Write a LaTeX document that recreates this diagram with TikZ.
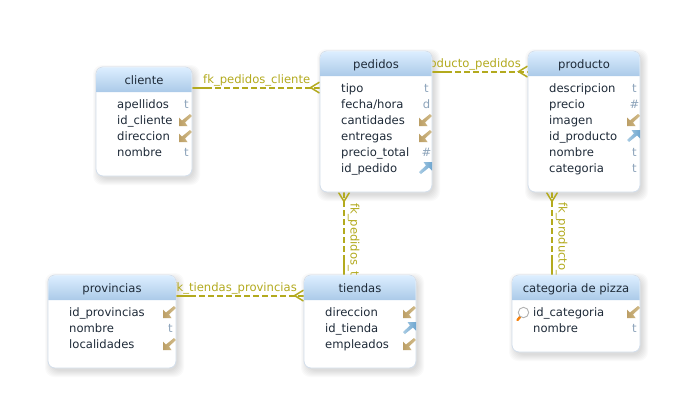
\documentclass[tikz,border=0pt]{standalone}
\usepackage{fontspec}
\setmainfont{DejaVu Sans}
\usetikzlibrary{arrows.meta,backgrounds,calc}
\definecolor{fkc}{HTML}{B3AA1E}
\definecolor{typec}{HTML}{8CA3BA}
\definecolor{txtc}{HTML}{1E2A38}
\definecolor{edgec}{HTML}{D3DEEB}
\definecolor{fkdark}{HTML}{BC9F66}
\definecolor{fklight}{HTML}{D2BC8A}
\definecolor{pkdark}{HTML}{6FA6D0}
\definecolor{pklight}{HTML}{A9CCE3}
\definecolor{hdtop}{HTML}{DCEEFF}
\definecolor{hdbot}{HTML}{ABCAE8}
\tikzset{
  x=1pt,y=-1pt,
  tablebox/.style={draw=edgec,line width=0.8pt,fill=white,rounded corners=7pt,inner sep=0pt},
  colname/.style={font=\fontsize{11.6}{14}\selectfont,text=txtc,anchor=base west,inner sep=0pt},
  typename/.style={font=\fontsize{11.6}{14}\selectfont,text=typec,anchor=base,inner sep=0pt},
  titlename/.style={font=\fontsize{11.6}{14}\selectfont,text=txtc,anchor=base,inner sep=0pt},
  fkline/.style={draw=fkc,line width=1.8pt,
    dash pattern=on 20pt off 3pt on 6pt off 3pt on 6pt off 3pt on 6pt off 3pt on 6pt off 3pt on 6pt off 3pt on 6pt off 3pt on 6pt off 3pt on 6pt off 3pt on 6pt off 3pt on 6pt off 3pt on 6pt off 3pt on 6pt off 3pt on 6pt off 200pt},
  fkfoot/.style={draw=fkc,line width=1.5pt,line join=miter},
  fklabel/.style={font=\fontsize{11.6}{14}\selectfont,text=fkc,inner sep=0pt},
}
\newcommand{\iconfk}[2]{% x right edge, y centre
  \shade[left color=fkdark,right color=fklight] (#1-2,#2-6) -- (#1-10,#2+0.5) -- (#1-13,#2-2.5) -- (#1-13,#2+6) -- (#1-4.5,#2+6) -- (#1-7,#2+2.5) -- (#1,#2-4) -- cycle;}
\newcommand{\iconpk}[2]{%
  \shade[left color=pklight,right color=pkdark] (#1-11,#2+6) -- (#1-3,#2-0.5) -- (#1,#2+2.5) -- (#1,#2-6) -- (#1-8.5,#2-6) -- (#1-6,#2-2.5) -- (#1-13,#2+4) -- cycle;}
\newcommand{\coltype}[3]{%
  \ifx#1f\iconfk{#2}{#3}\fi
  \ifx#1p\iconpk{#2}{#3}\fi
  \ifx#1t\node[typename] at (#2-5.5,#3+4) {t};\fi
  \ifx#1d\node[typename] at (#2-5.5,#3+4) {d};\fi
  \ifx#1h\node[typename] at (#2-5.5,#3+4) {\#};\fi
}
\newcommand{\dbtable}[7]{% name x y w h title rows
  \pgfmathsetmacro{\xa}{#2}\pgfmathsetmacro{\ya}{#3}
  \pgfmathsetmacro{\xb}{#2+#4}\pgfmathsetmacro{\yb}{#3+#5}
  \pgfmathsetmacro{\xc}{#2+#4/2}\pgfmathsetmacro{\yc}{#3+#5/2}
  \begin{scope}[on background layer]
    \foreach \s in {0,1,...,6}{
      \fill[black,opacity=0.018,rounded corners=9pt]
        (\xa+3-\s,\ya+4-\s) rectangle (\xb+2+\s,\yb+3+\s);
    }
  \end{scope}
  \node[tablebox,minimum width=#4pt,minimum height=#5pt] (#1) at (\xc,\yc) {};
  \shade[top color=hdtop,bottom color=hdbot,rounded corners=7pt]
    (\xa+0.4,\ya+25) [sharp corners] -- (\xa+0.4,\ya+18) [rounded corners=7pt] -- (\xa+0.4,\ya+0.4) -- (\xb-0.4,\ya+0.4) -- (\xb-0.4,\ya+18) [sharp corners] -- (\xb-0.4,\ya+25) -- cycle;
  \node[titlename] (#1-title) at (\xc,\ya+17) {#6};
  \foreach \colt/\colk [count=\i from 0] in {#7}{
    \pgfmathsetmacro{\ry}{\ya+37+16*\i}
    \node[colname] (#1-\i) at (\xa+21,\ry+4) {\colt};
    \expandafter\coltype\expandafter{\colk}{\xb}{\ry}
  }
}
% connector: from a, to b, crow's foot opening towards b; #3,#4 = unit direction
\newcommand{\fklink}[4]{%
  \draw[fkline] #1 -- #2;
  \draw[fkfoot] ($#2+(#4*5.5,#3*5.5)$) -- ($#2-(#3*9,#4*9)$) -- ($#2-(#4*5.5,#3*5.5)$);
}
\begin{document}
\begin{tikzpicture}
\useasboundingbox (0,0) rectangle (688,416);
\begin{scope}[on background layer]
  \fill[white] (0,0) rectangle (688,416);
\end{scope}
\dbtable{cliente}{96}{67}{96}{109}{cliente}{apellidos/t,id\_cliente/f,direccion/f,nombre/t}
\dbtable{pedidos}{320}{51}{112}{141}{pedidos}{tipo/t,{fecha/hora}/d,cantidades/f,entregas/f,precio\_total/h,id\_pedido/p}
\dbtable{producto}{528}{51}{112}{141}{producto}{descripcion/t,precio/h,imagen/f,id\_producto/p,nombre/t,categoria/t}
\dbtable{tiendas}{304}{275}{112}{93}{tiendas}{direccion/f,id\_tienda/p,empleados/f}
\dbtable{provincias}{48}{275}{128}{93}{provincias}{id\_provincias/f,nombre/t,localidades/f}
\dbtable{categoria}{512}{275}{128}{77}{categoria de pizza}{id\_categoria/f,nombre/t}
% magnifier key icon
\draw[orange!85!brown,line width=2.4pt,line cap=round] (517.5,320) -- (520,317);
\draw[gray!60,line width=0.9pt,fill=white] (523.5,312.5) circle (5.2);
\begin{scope}[on background layer]
  \fklink{([yshift=-21pt]cliente.north east)}{([yshift=-37pt]pedidos.north west)}{1}{0}
  \fklink{([yshift=-21pt]pedidos.north east)}{([yshift=-21pt]producto.north west)}{1}{0}
  \fklink{([yshift=-21pt]provincias.north east)}{([yshift=-21pt]tiendas.north west)}{1}{0}
  \fklink{([xshift=-16pt]tiendas.north)}{([xshift=-32pt]pedidos.south)}{0}{-1}
  \fklink{([xshift=-24pt]categoria.north)}{([xshift=-32pt]producto.south)}{0}{-1}
  \node[fklabel,anchor=base west] (lab1) at (203,83) {fk\_pedidos\_cliente};
  \node[fklabel,anchor=base east] (lab2) at (521,67) {fk\_producto\_pedidos};
  \node[fklabel,anchor=base east] (lab3) at (297,291) {fk\_tiendas\_provincias};
  \node[fklabel,anchor=base west,rotate=-90] (lab4) at (350.5,203) {fk\_pedidos\_tiendas};
  \node[fklabel,anchor=base west,rotate=-90] (lab5) at (558.5,202) {fk\_producto\_categoria};
\end{scope}
\end{tikzpicture}
\end{document}
